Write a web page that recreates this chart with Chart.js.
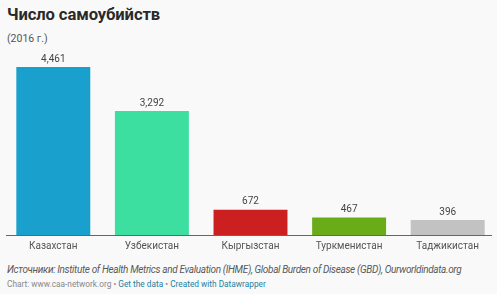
<!DOCTYPE html>
<html>
<head>
<meta charset="utf-8">
<script src="https://cdn.jsdelivr.net/npm/chart.js@4"></script>
<style>
  html, body { margin: 0; padding: 0; background: #f9f9f9; width: 497px; height: 294px; overflow: hidden; font-family: Roboto, "Noto Sans", sans-serif; }
  #title { position: absolute; left: 7px; top: 5px; font-size: 16.6px; font-weight: 700; color: #2a2a2a; letter-spacing: -0.1px; }
  #sub { position: absolute; left: 7px; top: 32px; font-size: 10.5px; color: #555; }
  #wrap { position: absolute; left: 0; top: 45px; width: 497px; height: 212px; }
  #src { position: absolute; left: 7px; top: 264px; font-size: 10px; letter-spacing: -0.35px; font-style: italic; color: #5a5a5a; white-space: nowrap; }
  #foot { position: absolute; left: 7px; top: 279px; font-size: 8.3px; color: #888; white-space: nowrap; }
  #foot span.l { color: #1d81a2; }
</style>
</head>
<body>
<div id="title">Число самоубийств</div>
<div id="sub">(2016 г.)</div>
<div id="wrap"><canvas id="grafico"></canvas></div>
<div id="src">Источники: Institute of Health Metrics and Evaluation (IHME), Global Burden of Disease (GBD), Ourworldindata.org</div>
<div id="foot">Chart: www.caa-network.org • <span class="l">Get the data</span> • <span class="l">Created with Datawrapper</span></div>
<script>
const paises = ['Казахстан', 'Узбекистан', 'Кыргызстан', 'Туркменистан', 'Таджикистан'];
const suicidios = [4461, 3292, 672, 467, 396];
const cores = ['#1aa0cc', '#3cdfa0', '#cc2020', '#6aab18', '#c2c2c2'];

const rotulos = {
    id: 'rotulos',
    afterDatasetsDraw(chart) {
        const ctx = chart.ctx;
        const meta = chart.getDatasetMeta(0);
        ctx.save();
        ctx.font = '10px Roboto, sans-serif';
        ctx.fillStyle = '#444';
        ctx.textAlign = 'center';
        ctx.textBaseline = 'bottom';
        meta.data.forEach((bar, i) => {
            ctx.fillText(suicidios[i].toLocaleString('en-US'), bar.x, bar.y - 3);
        });
        // linha do eixo
        const a = chart.chartArea;
        ctx.strokeStyle = '#666';
        ctx.lineWidth = 1;
        ctx.beginPath();
        ctx.moveTo(a.left + 2, Math.round(a.bottom) + 0.5);
        ctx.lineTo(a.right - 5, Math.round(a.bottom) + 0.5);
        ctx.stroke();
        ctx.restore();
    }
};

new Chart(document.getElementById('grafico'), {
    type: 'bar',
    data: {
        labels: paises,
        datasets: [{
            data: suicidios,
            backgroundColor: cores,
            barPercentage: 0.75,
            categoryPercentage: 1
        }]
    },
    options: {
        responsive: true,
        maintainAspectRatio: false,
        animation: false,
        layout: { padding: { top: 22, left: 4, right: 0, bottom: 0 } },
        plugins: {
            legend: { display: false },
            tooltip: { enabled: false }
        },
        scales: {
            x: {
                grid: { display: false, drawTicks: false },
                border: { display: false },
                ticks: { color: '#555', font: { family: 'Roboto', size: 10 }, padding: 5 }
            },
            y: {
                display: false,
                min: 0,
                max: 4461
            }
        }
    },
    plugins: [rotulos]
});
</script>
</body>
</html>
